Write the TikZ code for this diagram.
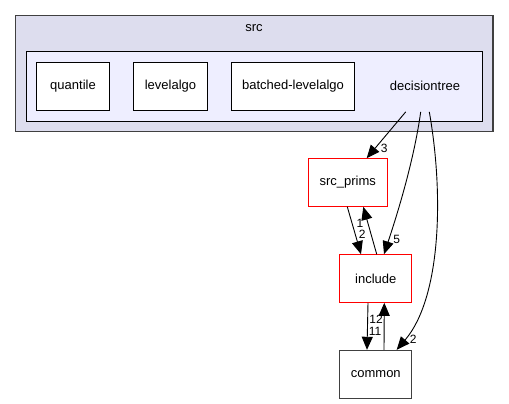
\documentclass[tikz,border=0pt]{standalone}
\usepackage{fontspec}
\setmainfont{Liberation Sans}
\usetikzlibrary{arrows.meta}
\definecolor{outerfill}{HTML}{DDDDEE}
\definecolor{innerfill}{HTML}{EEEEFF}
\definecolor{edgegray}{HTML}{404040}

\begin{document}
\begin{tikzpicture}[x=1pt,y=-1pt,
    dirbox/.style={draw=edgegray, fill=white, line width=1pt, inner sep=0pt, font=\fontsize{13}{15}\selectfont},
    redbox/.style={dirbox, draw=red},
    dep/.style={line width=0.9pt, -{Triangle[length=13pt,width=11pt]}},
    elabel/.style={inner sep=0pt, font=\fontsize{12}{14}\selectfont}]
    \useasboundingbox (0,0) rectangle (509,404);
    %\draw[dashed] (0,0) rectangle (509,404);
    \draw[fill=outerfill, draw=edgegray, line width=1.2pt] (15.7,15.7) rectangle (493,131.7);
    \node (src) at (254,27.7) {\fontsize{13}{15}\selectfont src};
    \draw[fill=innerfill, draw=black, line width=1pt] (26.3,51.7) rectangle (482.3,121.3);
    \node[inner sep=0pt, minimum height=52pt, font=\fontsize{13}{15}\selectfont] (decisiontree) at (425,85.7) {decisiontree};
    \node[dirbox, draw=black, minimum width=72.6pt, minimum height=48pt] (quantile) at (73,86.3) {quantile};
    \node[dirbox, draw=black, minimum width=73.6pt, minimum height=48pt] (levelalgo) at (170.5,86.3) {levelalgo};
    \node[dirbox, draw=black, minimum width=122.6pt, minimum height=48pt] (batched) at (293,86.3) {batched-levelalgo};
    \node[redbox, minimum width=78.7pt, minimum height=47.6pt] (srcprims) at (347.7,182.5) {src\_prims};
    \node[redbox, minimum width=72.3pt, minimum height=47.6pt] (include) at (375.8,278.5) {include};
    \node[dirbox, minimum width=72.3pt, minimum height=48pt] (common) at (375.8,374.3) {common};
    \draw[dep] ([xshift=-19.3pt]decisiontree.south) -- ([xshift=19pt]srcprims.north)
        node[elabel] at (384.3,148) {3};
    \draw[dep] ([xshift=-4.3pt]decisiontree.south) .. controls (414,160) and (398,212) .. ([xshift=8.2pt]include.north)
        node[elabel] at (396.7,239) {5};
    \draw[dep] ([xshift=4.3pt]decisiontree.south) .. controls (444,195) and (441,298) .. ([xshift=20.9pt]common.north)
        node[elabel] at (413.3,339.3) {2};
    \draw[dep] ([xshift=-0.4pt]srcprims.south) -- ([xshift=-14.8pt]include.north)
        node[elabel] at (362.3,234.3) {2};
    \draw[dep] ([xshift=0.9pt]include.north) -- ([xshift=15.6pt]srcprims.south)
        node[elabel] at (360,223.5) {1};
    \draw[dep] ([xshift=-7.8pt]include.south) -- ([xshift=-8.8pt]common.north)
        node[elabel] at (375,331.5) {11};
    \draw[dep] ([xshift=8.2pt]common.north) -- ([xshift=8.5pt]include.south)
        node[elabel] at (376,319.8) {12};
\end{tikzpicture}
\end{document}
